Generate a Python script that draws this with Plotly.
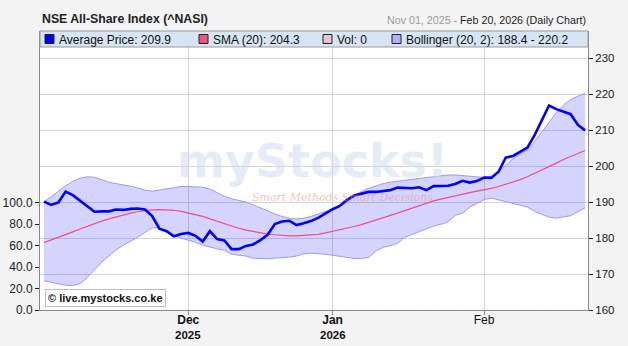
import pandas as pd
import plotly.graph_objects as go

# ---------------- data ----------------
holidays = ["2025-12-12", "2025-12-25", "2025-12-26", "2026-01-01"]
dates = [d.strftime("%Y-%m-%d") for d in pd.bdate_range("2025-11-03", "2026-02-20")
         if d.strftime("%Y-%m-%d") not in holidays]

price = [190.1, 189.2, 189.9, 192.9, 191.9, 190.3, 188.8, 187.3, 187.4, 187.4,
         187.9, 187.8, 188.1, 188.2, 187.9, 186.1, 182.6, 181.9, 180.5, 181.1,
         181.4, 180.6, 179.0, 181.9, 179.7, 179.3, 176.9, 176.9, 177.8, 178.2,
         179.4, 180.9, 183.9, 184.6, 184.8, 183.6, 184.1, 184.7, 185.6, 186.9,
         188.0, 188.9, 190.6, 191.8, 192.4, 192.8, 192.8, 193.1, 193.3, 194.0,
         193.8, 193.8, 194.1, 193.3, 194.4, 194.5, 194.5, 195.0, 195.9, 195.4,
         195.8, 196.8, 196.7, 198.4, 202.3, 202.8, 204.0, 205.1, 208.6, 212.8,
         216.8, 215.8, 215.1, 214.4, 211.4, 209.9]

sma20 = [178.7, 179.4, 180.1, 180.9, 181.7, 182.5, 183.3, 184.0, 184.7, 185.3,
         185.9, 186.4, 186.9, 187.3, 187.6, 187.8, 187.9, 187.9, 187.7, 187.4,
         187.0, 186.5, 186.0, 185.3, 184.6, 183.9, 183.3, 182.7, 182.2, 181.8,
         181.4, 181.1, 180.9, 180.7, 180.6, 180.6, 180.7, 180.8, 181.0, 181.4,
         181.8, 182.2, 182.7, 183.2, 183.7, 184.3, 184.9, 185.6, 186.3, 186.9,
         187.6, 188.3, 189.0, 189.7, 190.3, 190.8, 191.3, 191.8, 192.2, 192.6,
         193.0, 193.3, 193.8, 194.3, 194.9, 195.5, 196.2, 197.0, 197.9, 198.8,
         199.8, 200.8, 201.8, 202.7, 203.5, 204.3]

boll_upper = [190.1, 191.4, 193.0, 194.5, 195.7, 196.6, 197.0, 196.9, 196.2, 195.5,
              195.1, 194.8, 194.4, 193.9, 193.3, 193.0, 193.3, 193.8, 194.1, 194.3,
              194.3, 194.2, 194.1, 193.6, 192.6, 191.6, 190.9, 190.5, 190.0, 189.2,
              188.3, 187.4, 186.7, 186.0, 185.5, 185.3, 185.5, 186.0, 186.6, 187.3,
              188.0, 188.9, 190.0, 191.6, 192.9, 193.8, 194.5, 195.1, 195.5, 195.8,
              196.1, 196.4, 196.6, 196.8, 197.0, 197.3, 197.5, 197.5, 197.4, 197.2,
              197.0, 196.8, 197.2, 198.3, 200.2, 202.0, 203.3, 204.5, 206.8, 209.5,
              212.4, 214.8, 216.9, 218.5, 219.4, 220.2]

boll_lower = [168.1, 167.7, 167.3, 166.9, 166.8, 167.3, 169.0, 171.3, 173.3, 175.0,
              176.7, 178.0, 179.0, 180.2, 181.6, 182.8, 182.8, 181.7, 180.7, 180.0,
              179.5, 178.8, 178.0, 177.4, 177.0, 176.6, 175.5, 175.2, 175.0, 174.4,
              174.2, 174.2, 174.4, 174.5, 174.7, 175.0, 175.6, 175.8, 175.7, 175.5,
              175.2, 174.9, 174.5, 174.3, 174.3, 174.6, 176.4, 177.4, 177.9, 178.5,
              180.2, 181.0, 181.8, 182.7, 183.3, 183.8, 184.5, 186.3, 186.9, 188.5,
              189.6, 190.7, 191.1, 190.6, 189.9, 189.5, 189.0, 188.6, 187.4, 186.6,
              185.8, 185.5, 185.8, 186.2, 187.3, 188.4]

volume = [0] * len(dates)

price_ticks = [160, 170, 180, 190, 200, 210, 220, 230]
vol_ticks = [0, 20, 40, 60, 80, 100]
month_tick_dates = ["2025-12-01", "2026-01-02", "2026-02-02"]
month_tick_text = ["<b>Dec</b>", "<b>Jan</b>", "Feb"]
year_label_dates = ["2025-12-01", "2026-01-02"]
year_label_text = ["2025", "2026"]

title_text = "NSE All-Share Index (^NASI)"
period_from = "Nov 01, 2025"
period_to = "Feb 20, 2026"

# ---------------- styling ----------------
W, H = 628, 346
L, R, T, B = 40, 40, 31, 36
PW, PH = W - L - R, H - T - B

def px_x(px):
    return (px - L) / PW

def px_y(py):
    return (H - B - py) / PH

BLUE = "#0000ff"
PINK = "#ef4f86"
BAND_LINE = "#9a9af2"
BAND_FILL = "rgba(40,40,255,0.20)"
GRID = "#d6d6d6"
AXIS = "#8a8a8a"
FONT = "Liberation Sans, Arial, sans-serif"

fig = go.Figure()
fig.add_trace(go.Bar(x=dates, y=volume, yaxis="y2", marker_color="#e8c4cc",
                     hoverinfo="skip"))
fig.add_trace(go.Scatter(x=dates, y=boll_upper, mode="lines",
                         line=dict(color=BAND_LINE, width=1), hoverinfo="skip"))
fig.add_trace(go.Scatter(x=dates, y=boll_lower, mode="lines", fill="tonexty",
                         fillcolor=BAND_FILL,
                         line=dict(color=BAND_LINE, width=1), hoverinfo="skip"))
fig.add_trace(go.Scatter(x=dates, y=sma20, mode="lines",
                         line=dict(color=PINK, width=1.2)))
fig.add_trace(go.Scatter(x=dates, y=price, mode="lines",
                         line=dict(color=BLUE, width=2.6)))

fig.update_layout(
    width=W, height=H,
    margin=dict(l=L, r=R, t=T, b=B, pad=0, autoexpand=False),
    paper_bgcolor="#f3f3f3", plot_bgcolor="white",
    showlegend=False,
    font=dict(family=FONT, color="#222", size=12),
    bargap=0.3,
    xaxis=dict(
        automargin=False,
        type="category", categoryorder="array", categoryarray=dates,
        range=[-0.55, len(dates) - 0.6],
        tickmode="array", tickvals=month_tick_dates, ticktext=month_tick_text,
        showgrid=True, gridcolor=GRID, gridwidth=1,
        showline=True, linecolor=AXIS, linewidth=1,
        ticks="outside", ticklen=4, tickcolor=AXIS,
        ticklabelstandoff=-5,
        tickfont=dict(size=12, color="#111"), zeroline=False,
    ),
    yaxis=dict(
        automargin=False,
        side="right", range=[160, 160 + PH / 3.6],
        tickmode="array", tickvals=price_ticks,
        showgrid=True, gridcolor=GRID, gridwidth=1,
        showline=True, linecolor=AXIS, linewidth=1,
        ticks="outside", ticklen=4, tickcolor="#222",
        tickfont=dict(size=11.5, color="#222"), zeroline=False,
    ),
    yaxis2=dict(
        automargin=False,
        overlaying="y", side="left", range=[0, PH / 1.073],
        tickmode="array", tickvals=vol_ticks,
        ticktext=[f"{v:.1f}" for v in vol_ticks],
        showgrid=False, showline=True, linecolor=AXIS, linewidth=1,
        ticks="outside", ticklen=4, tickcolor="#222",
        tickfont=dict(size=12, color="#222"), zeroline=False,
    ),
)

shapes = []
annotations = []

# legend box
shapes.append(dict(type="rect", xref="paper", yref="paper",
                   x0=0, x1=1, y0=px_y(47), y1=px_y(31), layer="above",
                   fillcolor="#d6e4f4", line=dict(color="#9a9a9a", width=1)))
legend_items = [
    (45, BLUE, f"Average Price: {price[-1]:.1f}"),
    (199, "#ef5580", f"SMA (20): {sma20[-1]:.1f}"),
    (323, "#e8c4cc", f"Vol: {volume[-1]}"),
    (392, "#b0b0ff", f"Bollinger (20, 2): {boll_lower[-1]:.1f} - {boll_upper[-1]:.1f}"),
]
for x0, col, txt in legend_items:
    shapes.append(dict(type="rect", xref="paper", yref="paper",
                       x0=px_x(x0), x1=px_x(x0 + 9), y0=px_y(43.5), y1=px_y(34.5),
                       layer="above", fillcolor=col, line=dict(color="#222", width=1)))
    annotations.append(dict(xref="paper", yref="paper", x=px_x(x0 + 12), y=px_y(39.5),
                            xanchor="left", yanchor="middle", showarrow=False,
                            text=txt, font=dict(family=FONT, size=12, color="#111")))

# year labels under month ticks
for d, t in zip(year_label_dates, year_label_text):
    annotations.append(dict(xref="x", yref="paper", x=d, y=px_y(334.5),
                            xanchor="center", yanchor="middle", showarrow=False,
                            text=f"<b>{t}</b>",
                            font=dict(family=FONT, size=11.5, color="#111")))

# title and period
annotations.append(dict(xref="paper", yref="paper", x=0, y=px_y(19),
                        xanchor="left", yanchor="middle", showarrow=False,
                        text=f"<b>{title_text}</b>",
                        font=dict(family=FONT, size=12.3, color="#222")))
annotations.append(dict(xref="paper", yref="paper", x=1, y=px_y(19.5),
                        xanchor="right", yanchor="middle", showarrow=False,
                        text=f"<span style='color:#9a9a9a'>{period_from} - </span>{period_to} (Daily Chart)",
                        font=dict(family=FONT, size=10.7, color="#222")))

# watermark
annotations.append(dict(xref="paper", yref="paper", x=px_x(312), y=px_y(161),
                        xanchor="center", yanchor="middle", showarrow=False,
                        text="<b>myStocks!</b>",
                        font=dict(family="DejaVu Sans, sans-serif", size=46,
                                  color="rgba(205,218,238,0.5)")))
annotations.append(dict(xref="paper", yref="paper", x=px_x(342), y=px_y(197),
                        xanchor="center", yanchor="middle", showarrow=False,
                        text="<i>Smart Methods Smart Decisions</i>",
                        font=dict(family="DejaVu Serif, serif", size=11,
                                  color="rgba(238,140,140,0.55)")))

# copyright box
annotations.append(dict(xref="paper", yref="paper", x=px_x(45), y=px_y(298),
                        xanchor="left", yanchor="middle", showarrow=False,
                        text="<b>© live.mystocks.co.ke</b>",
                        font=dict(family=FONT, size=11, color="#111"),
                        bgcolor="white", bordercolor="#bdbdbd", borderwidth=1,
                        borderpad=2))

fig.update_layout(shapes=shapes, annotations=annotations)
fig.write_html("out.html")
